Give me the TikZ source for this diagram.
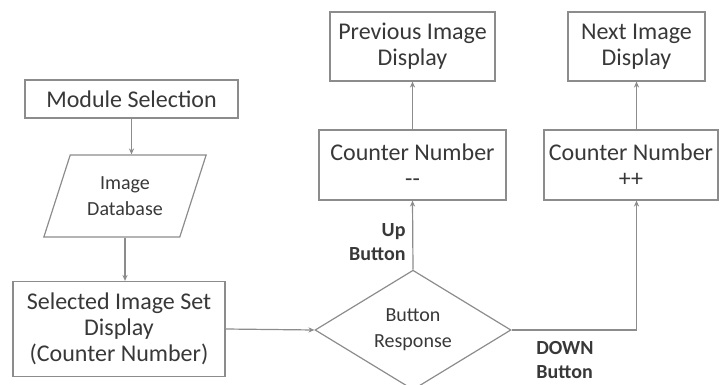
\documentclass[tikz,border=0pt]{standalone}
\usepackage{fontspec}
\setmainfont{Carlito}
\usetikzlibrary{arrows.meta,shapes.geometric}
\definecolor{linegray}{HTML}{8C8C8C}
\definecolor{textgray}{HTML}{383838}
\tikzset{
  box/.style={draw=linegray, line width=0.6pt, text=textgray, align=center, inner sep=1pt, font=\fontsize{12}{13}\selectfont},
  io/.style={trapezium, trapezium left angle=66, trapezium right angle=114, trapezium stretches=true, draw=linegray, line width=0.6pt, text=textgray, align=center, inner sep=1pt, font=\fontsize{10}{13}\selectfont},
  decision/.style={diamond, draw=linegray, line width=0.6pt, text=textgray, align=center, inner sep=0pt, font=\fontsize{10}{13}\selectfont},
  arr/.style={draw=linegray, line width=0.6pt, -{Stealth[length=3pt,width=2.6pt]}},
  lbl/.style={text=textgray, font=\bfseries\fontsize{10}{12}\selectfont},
}
\begin{document}
\begin{tikzpicture}[x=0.5pt, y=-0.5pt]
  \useasboundingbox (0,0) rectangle (722,385);
  % left column
  \node[box, minimum width=106.5pt, minimum height=19pt] (mod) at (131.5,99) {Module Selection};
  \node[io, minimum width=81.5pt, minimum height=41pt] (db) at (125,196) {Image\\Database};
  \node[box, minimum width=106pt, minimum height=47.5pt] (sel) at (119,329) {Selected Image Set\\Display\\(Counter Number)};
  % decision
  \node[decision, minimum width=98pt, minimum height=59pt] (dia) at (413,330) {Button\\Response};
  % up branch
  \node[box, minimum width=93.5pt, minimum height=35pt] (cm) at (412.5,165) {Counter Number\\{-}{-}};
  \node[box, minimum width=82.5pt, minimum height=34.5pt] (prev) at (412.5,46.5) {Previous Image\\Display};
  % down branch
  \node[box, minimum width=87pt, minimum height=35pt] (cp) at (631,165) {Counter Number\\++};
  \node[box, minimum width=68.5pt, minimum height=34.5pt] (next) at (636.5,46.5) {Next Image\\Display};
  % connectors
  \path[arr] (mod.south) -- (mod.south |- db.north);
  \path[arr] (db.south) -- (db.south |- sel.north);
  \path[arr] (sel.east) -- (dia.west);
  \path[arr] (dia.north) -- node[lbl, pos=0.4, left, align=right] {Up\\Button} (cm.south);
  \path[arr] (cm.north) -- (prev.south);
  \path[arr] (dia.east) -| node[lbl, pos=0.07, below right, align=left, yshift=-2pt] {DOWN\\Button} (cp.south -| next.south);
  \path[arr] (cp.north -| next.south) -- (next.south);
\end{tikzpicture}
\end{document}
